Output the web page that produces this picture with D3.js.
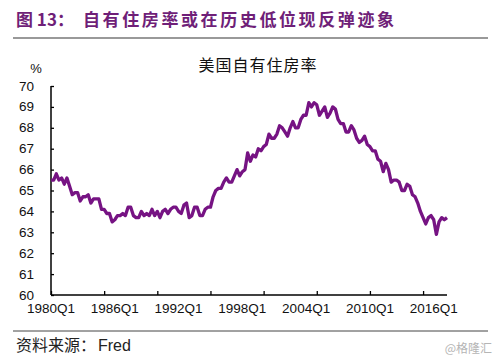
<!DOCTYPE html>
<html><head><meta charset="utf-8">
<script src="https://cdn.jsdelivr.net/npm/d3@7"></script>
<style>body{margin:0;background:#fff}</style>
</head><body>
<svg id="c" width="499" height="360"></svg>
<script>
const startYear = 1980;
const homeownership = [
65.5,65.5,65.8,65.5, 65.6,65.3,65.6,65.2, 64.8,64.9,64.9,64.5, 64.7,64.7,64.8,64.4,
64.6,64.6,64.6,64.1, 64.1,63.9,63.9,63.5, 63.6,63.8,63.8,63.9, 63.8,64.2,64.2,63.8,
63.7,63.7,64.0,63.8, 63.9,63.8,64.1,63.8, 64.0,63.7,64.0,64.1, 63.9,64.1,64.2,64.2,
64.0,63.9,64.3,64.4, 63.7,63.8,64.2,64.2, 63.8,63.8,64.1,64.2, 64.2,64.7,65.0,65.1,
65.1,65.4,65.6,65.4, 65.4,65.7,66.0,65.7, 65.9,66.0,66.8,66.4, 66.7,66.6,67.0,66.9,
67.1,67.2,67.7,67.5, 67.5,67.7,68.1,68.0, 67.8,67.6,68.0,68.3, 68.0,68.0,68.4,68.6,
68.6,69.2,69.0,69.2, 69.1,68.6,68.8,69.0, 68.5,68.7,69.0,68.9, 68.4,68.2,68.2,67.8,
67.8,68.1,67.9,67.5, 67.3,67.4,67.6,67.2, 67.1,66.9,66.9,66.5, 66.4,65.9,66.3,66.0,
65.4,65.5,65.5,65.4, 65.0,65.0,65.3,65.2, 64.8,64.7,64.4,64.0, 63.7,63.4,63.7,63.8,
63.6,62.9,63.5,63.7, 63.6,63.7
];
const quarters = homeownership.map((v,i)=> (startYear + Math.floor(i/4)) + "Q" + (i%4+1));
const yTicks = [60,61,62,63,64,65,66,67,68,69,70];
const xLabels = ["1980Q1","1986Q1","1992Q1","1998Q1","2004Q1","2010Q1","2016Q1"];
const xTickEvery = 20;

const svg = d3.select("#c");
const L = 51, R = 447, T = 86, B = 295;
const x = d3.scalePoint().domain(quarters).range([L, R]);
const y = d3.scaleLinear().domain([60,70]).range([B, T]);
const cjk = "'Noto Sans CJK SC',sans-serif";
const lat = "'Liberation Sans', Arial, sans-serif";

// header
const h = svg.append("text").attr("y",26)
  .attr("font-family",cjk).attr("font-weight","bold")
  .attr("font-size",17).attr("fill","#6f1f78");
h.append("tspan").attr("x",16).text("图 13：");
h.append("tspan").attr("x",83).attr("letter-spacing",2.6).text("自有住房率或在历史低位现反弹迹象");
svg.append("line").attr("x1",13).attr("x2",488).attr("y1",38).attr("y2",38)
  .attr("stroke","#777").attr("stroke-width",1.5);

// chart title
svg.append("text").attr("x",258).attr("y",71).attr("text-anchor","middle")
  .attr("font-family",cjk).attr("font-size",16).attr("letter-spacing",1)
  .attr("fill","#111").text("美国自有住房率");
svg.append("text").attr("x",36).attr("y",73).attr("text-anchor","middle")
  .attr("font-family",lat).attr("font-size",13)
  .attr("fill","#111").text("%");

// y axis
const yAxis = svg.append("g").attr("transform",`translate(${L},0)`)
  .call(d3.axisRight(y).tickValues(yTicks).tickSize(3).tickFormat(""));
yAxis.select(".domain").remove();
yAxis.selectAll("line").attr("stroke","#000").attr("stroke-width",1.3);
svg.append("line").attr("x1",L).attr("x2",L).attr("y1",T).attr("y2",B)
  .attr("stroke","#000").attr("stroke-width",1.5);
svg.append("g").selectAll("text").data(yTicks).join("text")
  .attr("x",L-17).attr("y",d=>y(d)+4.5).attr("text-anchor","end")
  .attr("font-family",lat).attr("font-size",13.5)
  .attr("fill","#111").text(d=>d);

// x axis
const tickQs = quarters.filter((q,i)=> i % xTickEvery === 0);
const xAxis = svg.append("g").attr("transform",`translate(0,${B})`)
  .call(d3.axisTop(x).tickValues(tickQs).tickSize(4).tickFormat(""));
xAxis.select(".domain").remove();
xAxis.selectAll("line").attr("stroke","#000").attr("stroke-width",1.3);
svg.append("line").attr("x1",L).attr("x2",R).attr("y1",B).attr("y2",B)
  .attr("stroke","#000").attr("stroke-width",1.5);
svg.append("g").selectAll("text").data(xLabels).join("text")
  .attr("x",d=>x(d)).attr("y",B+17.5).attr("text-anchor","middle")
  .attr("font-family",lat).attr("font-size",13.5)
  .attr("fill","#111").text(d=>d);

// line
svg.append("path").datum(homeownership)
  .attr("d", d3.line().x((d,i)=>x(quarters[i])).y(d=>y(d)))
  .attr("fill","none").attr("stroke","#761383").attr("stroke-width",3.3)
  .attr("stroke-linejoin","round");

// footer
svg.append("line").attr("x1",13).attr("x2",488).attr("y1",331).attr("y2",331)
  .attr("stroke","#444").attr("stroke-width",1);
const s = svg.append("text").attr("y",351).attr("fill","#222");
s.append("tspan").attr("x",16).attr("font-family",cjk).attr("font-size",16).text("资料来源：");
s.append("tspan").attr("x",98).attr("font-family",lat).attr("font-size",16).text("Fred");
svg.append("text").attr("x",492).attr("y",353).attr("text-anchor","end")
  .attr("font-family",cjk).attr("font-size",12)
  .attr("fill","#b5b5b5").text("@格隆汇");
</script>
</body></html>
